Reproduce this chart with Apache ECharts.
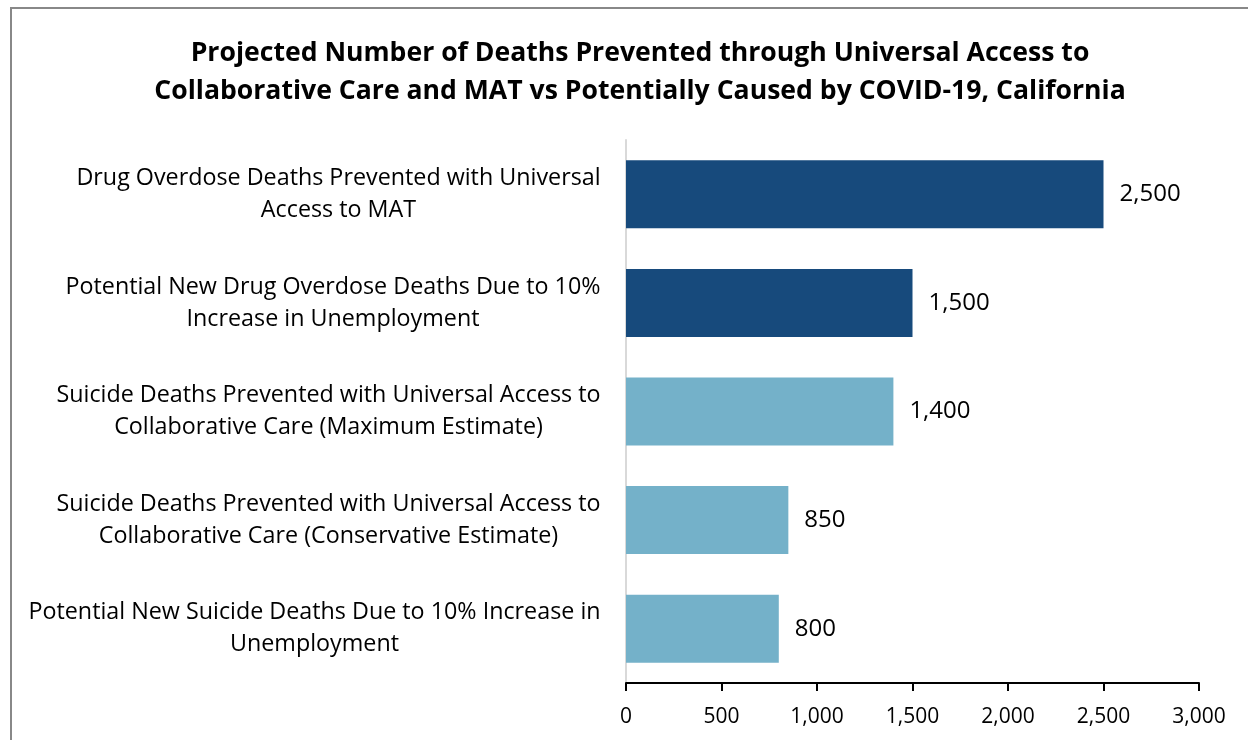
<!DOCTYPE html>
<html><head><meta charset="utf-8">
<script src="https://cdn.jsdelivr.net/npm/echarts@6/dist/echarts.min.js"></script>
<style>html,body{margin:0;padding:0;background:#fff}#c{width:1248px;height:740px}</style>
</head><body><div id="c"></div>
<script>
const titleLines = ["Projected Number of Deaths Prevented through Universal Access to", "Collaborative Care and MAT vs Potentially Caused by COVID-19, California"];
const categories = [
  "Drug Overdose Deaths Prevented with Universal\nAccess to MAT",
  "Potential New Drug Overdose Deaths Due to 10%\nIncrease in Unemployment",
  "Suicide Deaths Prevented with Universal Access to\nCollaborative Care (Maximum Estimate)",
  "Suicide Deaths Prevented with Universal Access to\nCollaborative Care (Conservative Estimate)",
  "Potential New Suicide Deaths Due to 10% Increase in\nUnemployment"
];
const values = [2500, 1500, 1400, 850, 800];
const groups = ["overdose", "overdose", "suicide", "suicide", "suicide"];
const xTicks = [0, 500, 1000, 1500, 2000, 2500, 3000];

const groupColor = {overdose: "#174A7C", suicide: "#74B1C9"};
const FONT = "'Open Sans', sans-serif";
const LABEL_SIZE = 23.3;

// measure widest line of each category label so lines can be centred within a right-aligned block
const cv = document.createElement('canvas').getContext('2d');
cv.font = LABEL_SIZE + 'px ' + FONT;
const rich = {};
categories.forEach((c, i) => {
  const w = Math.max(...c.split('\n').map(s => cv.measureText(s).width));
  rich['l' + i] = {width: Math.ceil(w), align: 'center', fontFamily: FONT, fontSize: LABEL_SIZE, lineHeight: 32, color: '#000'};
});

const chart = echarts.init(document.getElementById('c'));
chart.setOption({
  animation: false,
  backgroundColor: '#fff',
  graphic: [{type: 'rect', shape: {x: 11, y: 8, width: 1400, height: 900}, style: {fill: 'none', stroke: '#888', lineWidth: 2}, silent: true}],
  title: {
    text: titleLines.join('\n'), left: 635, textAlign: 'center', top: 29,
    textStyle: {fontFamily: FONT, fontWeight: 'bold', fontSize: 26.6, lineHeight: 38, color: '#000'}
  },
  grid: {left: 626, right: 49, top: 140, bottom: 57, containLabel: false},
  xAxis: {
    type: 'value', min: xTicks[0], max: xTicks[xTicks.length - 1], interval: xTicks[1] - xTicks[0],
    axisLine: {show: true, lineStyle: {color: '#000', width: 2}},
    axisTick: {show: true, length: 8, lineStyle: {color: '#000', width: 2}},
    splitLine: {show: false},
    axisLabel: {fontFamily: FONT, fontSize: 21, color: '#000', margin: 24,
      formatter: v => v.toLocaleString('en-US')}
  },
  yAxis: {
    type: 'category', data: categories, inverse: true,
    axisLine: {show: true, lineStyle: {color: '#d9d9d9', width: 2}},
    axisTick: {show: false},
    axisLabel: {margin: 25, align: 'right', rich: rich,
      formatter: (v, i) => v.split('\n').map(s => '{l' + i + '|' + s + '}').join('\n')}
  },
  series: [{
    type: 'bar', barWidth: 68,
    data: values.map((v, i) => ({value: v, itemStyle: {color: groupColor[groups[i]]}})),
    label: {show: true, position: 'right', distance: 16, fontFamily: FONT, fontSize: 24, color: '#000',
      formatter: p => p.value.toLocaleString('en-US')}
  }]
});
</script></body></html>
